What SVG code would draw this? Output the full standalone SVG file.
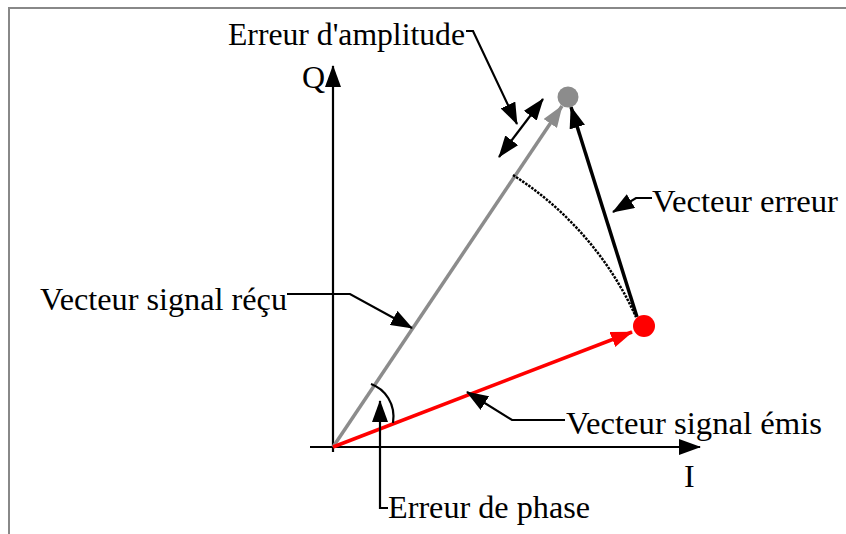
<svg xmlns="http://www.w3.org/2000/svg" width="846" height="534" viewBox="0 0 846 534">
<style>
  text { font-family: "Liberation Serif", "Times New Roman", serif; font-size: 32px; fill: #000; }
  .ln { fill: none; stroke: #000; stroke-width: 2.2; }
  .frame { fill: none; stroke: #888; stroke-width: 2; }
</style>
<defs>
  <marker id="ah" viewBox="0 0 22 16" refX="21" refY="8" markerWidth="22" markerHeight="16" markerUnits="userSpaceOnUse" orient="auto-start-reverse">
    <path d="M0,0 L22,8 L0,16 z" fill="#000"/>
  </marker>
  <marker id="ahg" viewBox="0 0 22 16" refX="21" refY="8" markerWidth="22" markerHeight="16" markerUnits="userSpaceOnUse" orient="auto">
    <path d="M0,0 L22,8 L0,16 z" fill="#8c8c8c"/>
  </marker>
  <marker id="ahr" viewBox="0 0 22 16" refX="21" refY="8" markerWidth="22" markerHeight="16" markerUnits="userSpaceOnUse" orient="auto">
    <path d="M0,0 L22,8 L0,16 z" fill="#ff0000"/>
  </marker>
</defs>
<rect width="846" height="534" fill="#fff"/>
<path class="frame" d="M9,534 L9,8 L846,8"/>

<g id="connectors">
  <line id="axis-q" class="ln" x1="333" y1="452" x2="333" y2="66" marker-end="url(#ah)"/>
  <line id="axis-i" class="ln" x1="310" y1="447" x2="700" y2="447" marker-end="url(#ah)"/>
  <line id="v-recu" x1="333" y1="447" x2="562" y2="106" stroke="#8c8c8c" stroke-width="3.5" marker-end="url(#ahg)"/>
  <line id="v-emis" x1="333" y1="447" x2="632" y2="332" stroke="#ff0000" stroke-width="3.5" marker-end="url(#ahr)"/>
  <line id="v-erreur" x1="637" y1="317" x2="571" y2="107" stroke="#000" stroke-width="3.5" marker-end="url(#ah)"/>
  <path id="arc-amp" d="M513,175 A328,328 0 0,1 636,317" fill="none" stroke="#000" stroke-width="2.5" stroke-dasharray="2.5,1.2"/>
  <path id="arc-phase" class="ln" d="M371,384 C385,389 396,404 393,423"/>
  <path class="ln" d="M466,31 L473,31 L517,124" marker-end="url(#ah)"/>
  <line class="ln" x1="499" y1="157" x2="543" y2="99" marker-start="url(#ah)" marker-end="url(#ah)"/>
  <path class="ln" d="M652,198 L636,198 L613,212" marker-end="url(#ah)"/>
  <path class="ln" d="M287,294 L350,294 L412,328" marker-end="url(#ah)"/>
  <path class="ln" d="M565,420 L512,420 L467,392" marker-end="url(#ah)"/>
  <path class="ln" d="M388,508 L380,508 L380,401" marker-end="url(#ah)"/>
</g>

<g id="point-recu"><circle cx="568" cy="97" r="10.5" fill="#8c8c8c"/></g>
<g id="point-emis"><circle cx="644" cy="326" r="11" fill="#ff0000"/></g>

<g id="label-amplitude"><text x="228" y="45" textLength="237" lengthAdjust="spacingAndGlyphs">Erreur d'amplitude</text></g>
<g id="label-q"><text x="302" y="88">Q</text></g>
<g id="label-i"><text x="684" y="487">I</text></g>
<g id="label-verreur"><text x="652" y="212" textLength="186" lengthAdjust="spacingAndGlyphs">Vecteur erreur</text></g>
<g id="label-recu"><text x="40" y="310" textLength="247" lengthAdjust="spacingAndGlyphs">Vecteur signal réçu</text></g>
<g id="label-emis"><text x="566" y="434" textLength="256" lengthAdjust="spacingAndGlyphs">Vecteur signal émis</text></g>
<g id="label-phase"><text x="388" y="518" textLength="202" lengthAdjust="spacingAndGlyphs">Erreur de phase</text></g>
</svg>
